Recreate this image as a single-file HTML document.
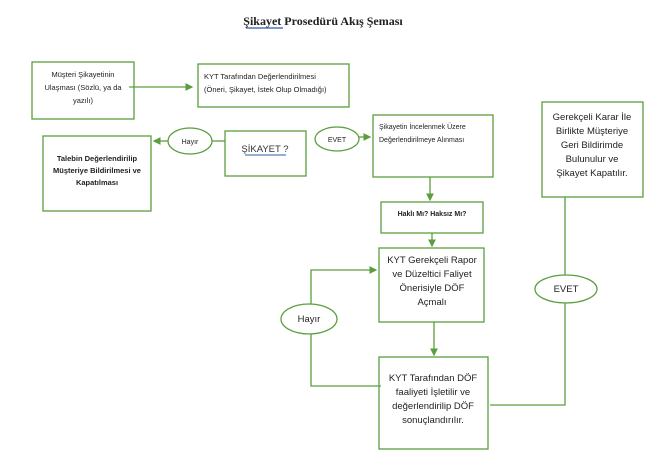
<!DOCTYPE html>
<html><head><meta charset="utf-8"><style>
html,body{margin:0;padding:0;background:#fff;}
svg{display:block;}
text{font-family:"Liberation Sans",sans-serif;fill:#222;}
</style></head><body>
<svg width="671" height="452" viewBox="0 0 671 452" xmlns="http://www.w3.org/2000/svg">
<defs><marker id="a" markerWidth="6" markerHeight="6" refX="5" refY="3" orient="auto"><path d="M0,0 L6,3 L0,6 z" fill="#5a9e3e"/></marker></defs>
<g fill="none" stroke="#5a9e3e" stroke-width="1.3">
<rect x="32" y="62" width="102" height="57"/>
<rect x="198" y="64" width="151" height="43"/>
<rect x="43" y="136" width="108" height="75"/>
<rect x="225" y="131" width="81" height="45"/>
<rect x="373" y="115" width="120" height="62"/>
<rect x="381" y="202" width="102" height="31"/>
<rect x="379" y="248" width="105" height="74"/>
<rect x="379" y="357" width="109" height="92"/>
<rect x="542" y="102" width="101" height="95"/>
<ellipse cx="190" cy="141" rx="22" ry="13"/>
<ellipse cx="337" cy="139" rx="22" ry="12"/>
<ellipse cx="566" cy="289" rx="31" ry="14"/>
<ellipse cx="309" cy="319" rx="28" ry="15"/>
<line x1="129" y1="87" x2="192" y2="87" marker-end="url(#a)"/>
<line x1="225" y1="141" x2="212" y2="141"/>
<line x1="168" y1="141" x2="154" y2="141" marker-end="url(#a)"/>
<line x1="359" y1="137" x2="370" y2="137" marker-end="url(#a)"/>
<line x1="430" y1="177" x2="430" y2="200" marker-end="url(#a)"/>
<line x1="432" y1="233" x2="432" y2="246" marker-end="url(#a)"/>
<line x1="434" y1="322" x2="434" y2="355" marker-end="url(#a)"/>
<polyline points="311,304 311,270 376,270" marker-end="url(#a)"/>
<polyline points="311,334 311,386 381,386"/>
<polyline points="490,405 565,405 565,303"/>
<line x1="565" y1="275" x2="565" y2="197"/>
</g>
<text x="323" y="25" text-anchor="middle" style="font-family:'Liberation Serif',serif;font-weight:bold;font-size:12px">Şikayet Prosedürü Akış Şeması</text>
<line x1="246" y1="28" x2="283" y2="28" stroke="#2a5caa" stroke-width="1.2"/>
<g font-size="7.5" text-anchor="middle">
<text x="83" y="77">Müşteri Şikayetinin</text>
<text x="83" y="90">Ulaşması (Sözlü, ya da</text>
<text x="83" y="103">yazılı)</text>
</g>
<g font-size="7.5">
<text x="204" y="79">KYT Tarafından Değerlendirilmesi</text>
<text x="204" y="92">(Öneri, Şikayet, İstek Olup Olmadığı)</text>
</g>
<g font-size="7.5" font-weight="bold" text-anchor="middle">
<text x="97" y="161">Talebin Değerlendirilip</text>
<text x="97" y="173">Müşteriye Bildirilmesi ve</text>
<text x="97" y="185">Kapatılması</text>
</g>
<text x="432" y="216" font-size="7" font-weight="bold" text-anchor="middle">Haklı Mı?  Haksız Mı?</text>
<text x="265" y="152" font-size="9.5" text-anchor="middle" style="fill:#333">ŞİKAYET ?</text>
<line x1="245" y1="155" x2="286" y2="155" stroke="#2a5caa" stroke-width="1"/>
<text x="190" y="144" font-size="7" text-anchor="middle">Hayır</text>
<text x="337" y="142" font-size="7" text-anchor="middle">EVET</text>
<g font-size="7">
<text x="379" y="129">Şikayetin İncelenmek Üzere</text>
<text x="379" y="142">Değerlendirilmeye Alınması</text>
</g>
<g font-size="9.5" text-anchor="middle">
<text x="432" y="263">KYT Gerekçeli Rapor</text>
<text x="432" y="277">ve Düzeltici Faliyet</text>
<text x="432" y="291">Önerisiyle DÖF</text>
<text x="432" y="305">Açmalı</text>
<text x="433" y="381">KYT Tarafından DÖF</text>
<text x="433" y="395">faaliyeti İşletilir ve</text>
<text x="433" y="409">değerlendirilip DÖF</text>
<text x="433" y="423">sonuçlandırılır.</text>
<text x="592" y="120">Gerekçeli Karar İle</text>
<text x="592" y="134">Birlikte Müşteriye</text>
<text x="592" y="148">Geri Bildirimde</text>
<text x="592" y="162">Bulunulur ve</text>
<text x="592" y="176">Şikayet Kapatılır.</text>
<text x="566" y="292">EVET</text>
<text x="309" y="322">Hayır</text>
</g>
</svg>
</body></html>
